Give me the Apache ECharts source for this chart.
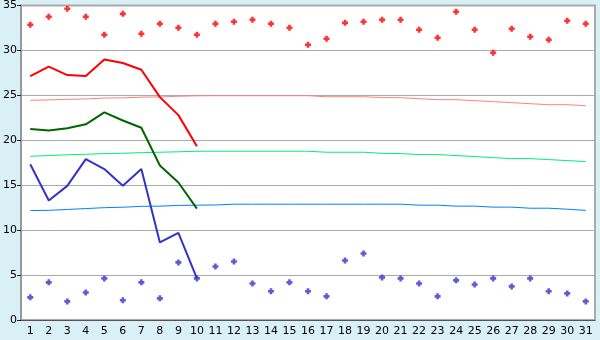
<!DOCTYPE html>
<html><head><meta charset="utf-8">
<script src="https://cdn.jsdelivr.net/npm/echarts@6/dist/echarts.min.js"></script>
<style>html,body{margin:0;padding:0;background:#daf0f7}#c{width:600px;height:340px}</style>
</head><body><div id="c"></div>
<script>
const days = Array.from({length:31},(_,i)=>String(i+1));
const yTicks = [0,5,10,15,20,25,30,35];
const maxTemp = [27.15,28.2,27.26,27.15,29.0,28.6,27.85,24.8,22.8,19.33];
const meanTemp = [21.26,21.1,21.33,21.78,23.1,22.2,21.4,17.2,15.3,12.4];
const minTemp = [17.33,13.3,14.93,17.9,16.8,14.93,16.8,8.63,9.7,4.63];
const normalMax = [24.45,24.5,24.55,24.6,24.7,24.72,24.8,24.82,24.9,24.95,24.96,24.96,24.96,24.96,24.96,24.96,24.85,24.85,24.85,24.75,24.74,24.63,24.52,24.52,24.41,24.3,24.19,24.07,23.96,23.96,23.85];
const normalMean = [18.22,18.3,18.38,18.44,18.52,18.56,18.62,18.67,18.72,18.78,18.78,18.78,18.78,18.78,18.78,18.78,18.67,18.67,18.67,18.55,18.52,18.41,18.41,18.3,18.19,18.07,17.96,17.96,17.85,17.74,17.63];
const normalMin = [12.19,12.2,12.3,12.4,12.5,12.55,12.65,12.67,12.75,12.78,12.8,12.89,12.89,12.89,12.89,12.89,12.89,12.89,12.89,12.89,12.89,12.78,12.78,12.67,12.67,12.56,12.56,12.44,12.44,12.33,12.2];
const recordMax = [32.85,33.74,34.63,33.74,31.74,34.07,31.85,32.96,32.52,31.74,32.96,33.19,33.41,32.96,32.52,30.63,31.3,33.07,33.19,33.41,33.41,32.3,31.41,34.3,32.3,29.74,32.41,31.52,31.19,33.3,32.96];
const recordMin = [2.52,4.19,2.07,3.07,4.63,2.19,4.19,2.41,6.41,4.63,5.96,6.52,4.07,3.19,4.19,3.19,2.63,6.63,7.41,4.74,4.63,4.07,2.63,4.41,3.96,4.63,3.74,4.63,3.19,2.96,2.07];

const plus = 'path://M2,0H5V2H7V5H5V7H2V5H0V2H2Z';
const chart = echarts.init(document.getElementById('c'), null, {renderer:'canvas'});
chart.setOption({
  backgroundColor:'#daf0f7',
  animation:false,
  grid:{left:21,right:5,top:5,bottom:20,show:true,backgroundColor:'#ffffff',borderColor:'#aaaaaa',borderWidth:2},
  xAxis:{type:'category',data:days,boundaryGap:true,
    axisLine:{lineStyle:{color:'#555555',width:1}},
    axisTick:{alignWithLabel:true,length:5,lineStyle:{color:'#222222'}},
    axisLabel:{color:'#000000',fontFamily:'DejaVu Sans',fontSize:11,margin:6,interval:0},
    splitLine:{show:false}},
  yAxis:{type:'value',min:yTicks[0],max:yTicks[yTicks.length-1],interval:5,
    axisLine:{show:true,lineStyle:{color:'#999999',width:2}},
    axisTick:{show:true,length:4,lineStyle:{color:'#222222'}},
    axisLabel:{color:'#000000',fontFamily:'DejaVu Sans',fontSize:11,margin:4},
    splitLine:{lineStyle:{color:'#aaaaaa',width:1}}},
  series:[
    {type:'line',data:normalMax,showSymbol:false,lineStyle:{color:'#ff8080',width:1},z:2},
    {type:'line',data:normalMean,showSymbol:false,lineStyle:{color:'#00ee77',width:1},z:2},
    {type:'line',data:normalMin,showSymbol:false,lineStyle:{color:'#0080ff',width:1},z:2},
    {type:'line',data:maxTemp,showSymbol:false,lineStyle:{color:'#ff0000',width:2},z:3},
    {type:'line',data:meanTemp,showSymbol:false,lineStyle:{color:'#006600',width:2},z:3},
    {type:'line',data:minTemp,showSymbol:false,lineStyle:{color:'#3333cc',width:2},z:3},
    {type:'scatter',data:recordMax,symbol:plus,symbolSize:6,itemStyle:{color:'#ff0000'},z:4},
    {type:'scatter',data:recordMin,symbol:plus,symbolSize:6,itemStyle:{color:'#3333cc'},z:4}
  ]
});
</script></body></html>
